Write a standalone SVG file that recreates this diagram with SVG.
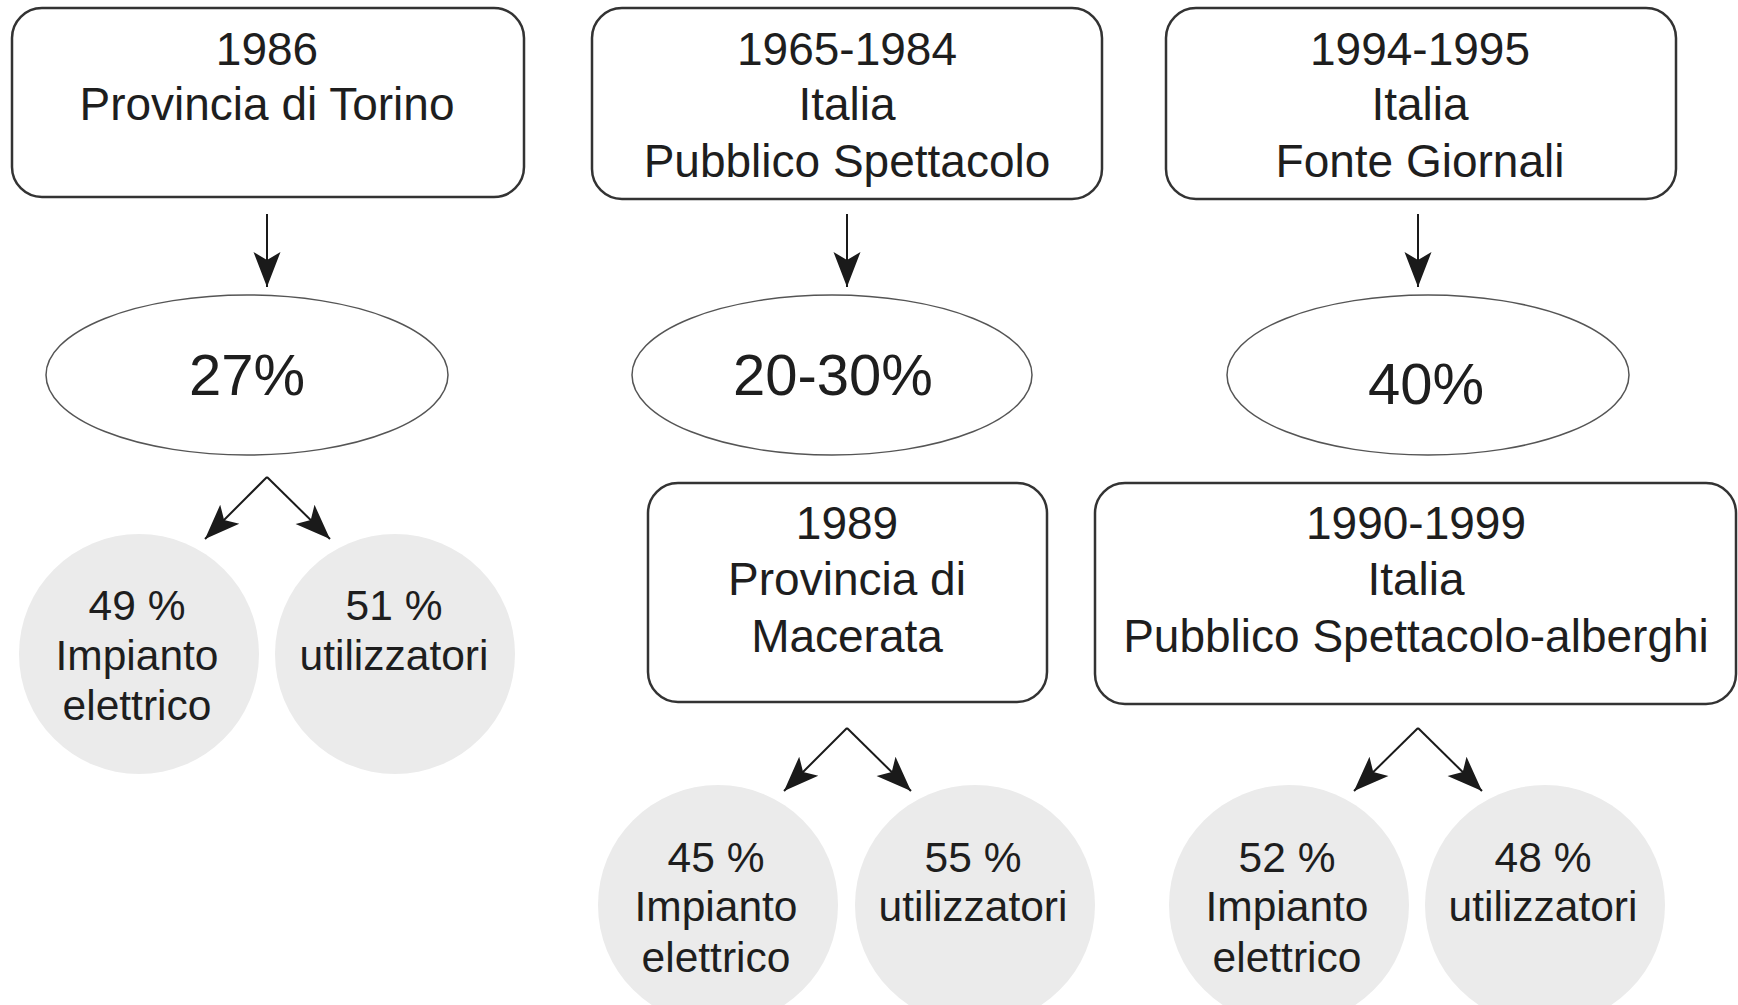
<svg xmlns="http://www.w3.org/2000/svg" width="1738" height="1005" viewBox="0 0 1738 1005">
<style>
text{font-family:"Liberation Sans",Arial,sans-serif;fill:#1e1e1e;text-anchor:middle}
.box{fill:#fff;stroke:#333;stroke-width:2.5}
.ell{fill:#fff;stroke:#555;stroke-width:1.5}
.circ{fill:#ebebeb;stroke:none}
.bt{font-size:46px}
.et{font-size:58px}
.ct{font-size:42.5px}
.conn{stroke:#1a1a1a;stroke-width:2;fill:none;marker-end:url(#ah)}
</style>
<defs>
<marker id="ah" markerUnits="userSpaceOnUse" markerWidth="40" markerHeight="32" viewBox="-37 -16 39 32" refX="0" refY="0" orient="auto">
<path d="M0,0 L-35,-13.5 L-27,0 L-35,13.5 Z" fill="#1a1a1a"/>
</marker>
</defs>
<rect width="1738" height="1005" fill="#fff"/>
<g id="connectors">
<line class="conn" x1="267" y1="214" x2="267" y2="287"/>
<line class="conn" x1="847" y1="214" x2="847" y2="287"/>
<line class="conn" x1="1418" y1="214" x2="1418" y2="287"/>
<path class="conn" d="M267,477 L205,539"/>
<path class="conn" d="M267,477 L330,539"/>
<path class="conn" d="M847,728 L784,791"/>
<path class="conn" d="M847,728 L911,791"/>
<path class="conn" d="M1418,728 L1354,791"/>
<path class="conn" d="M1418,728 L1482,791"/>
</g>
<g id="box-1986">
<rect class="box" x="12" y="8" width="512" height="189" rx="30"/>
<text class="bt" x="267" y="65">1986</text>
<text class="bt" x="267" y="120">Provincia di Torino</text>
</g>
<g id="box-1965">
<rect class="box" x="592" y="8" width="510" height="191" rx="30"/>
<text class="bt" x="847" y="65">1965-1984</text>
<text class="bt" x="847" y="120">Italia</text>
<text class="bt" x="847" y="177">Pubblico Spettacolo</text>
</g>
<g id="box-1994">
<rect class="box" x="1166" y="8" width="510" height="191" rx="30"/>
<text class="bt" x="1420" y="65">1994-1995</text>
<text class="bt" x="1420" y="120">Italia</text>
<text class="bt" x="1420" y="177">Fonte Giornali</text>
</g>
<g id="ell-27">
<ellipse class="ell" cx="247" cy="375" rx="201" ry="80"/>
<text class="et" x="247" y="395">27%</text>
</g>
<g id="ell-2030">
<ellipse class="ell" cx="832" cy="375" rx="200" ry="80"/>
<text class="et" x="833" y="395">20-30%</text>
</g>
<g id="ell-40">
<ellipse class="ell" cx="1428" cy="375" rx="201" ry="80"/>
<text class="et" x="1426" y="404">40%</text>
</g>
<g id="box-1989">
<rect class="box" x="648" y="483" width="399" height="219" rx="30"/>
<text class="bt" x="847" y="539">1989</text>
<text class="bt" x="847" y="595">Provincia di</text>
<text class="bt" x="847" y="652">Macerata</text>
</g>
<g id="box-1990">
<rect class="box" x="1095" y="483" width="641" height="221" rx="30"/>
<text class="bt" x="1416" y="539">1990-1999</text>
<text class="bt" x="1416" y="595">Italia</text>
<text class="bt" x="1416" y="652">Pubblico Spettacolo-alberghi</text>
</g>
<g id="c-49">
<circle class="circ" cx="139" cy="654" r="120"/>
<text class="ct" x="137" y="620">49 %</text>
<text class="ct" x="137" y="670">Impianto</text>
<text class="ct" x="137" y="720">elettrico</text>
</g>
<g id="c-51">
<circle class="circ" cx="395" cy="654" r="120"/>
<text class="ct" x="394" y="620">51 %</text>
<text class="ct" x="394" y="670">utilizzatori</text>
</g>
<g id="c-45">
<circle class="circ" cx="718" cy="905" r="120"/>
<text class="ct" x="716" y="872">45 %</text>
<text class="ct" x="716" y="921">Impianto</text>
<text class="ct" x="716" y="972">elettrico</text>
</g>
<g id="c-55">
<circle class="circ" cx="975" cy="905" r="120"/>
<text class="ct" x="973" y="872">55 %</text>
<text class="ct" x="973" y="921">utilizzatori</text>
</g>
<g id="c-52">
<circle class="circ" cx="1289" cy="905" r="120"/>
<text class="ct" x="1287" y="872">52 %</text>
<text class="ct" x="1287" y="921">Impianto</text>
<text class="ct" x="1287" y="972">elettrico</text>
</g>
<g id="c-48">
<circle class="circ" cx="1545" cy="905" r="120"/>
<text class="ct" x="1543" y="872">48 %</text>
<text class="ct" x="1543" y="921">utilizzatori</text>
</g>
</svg>
